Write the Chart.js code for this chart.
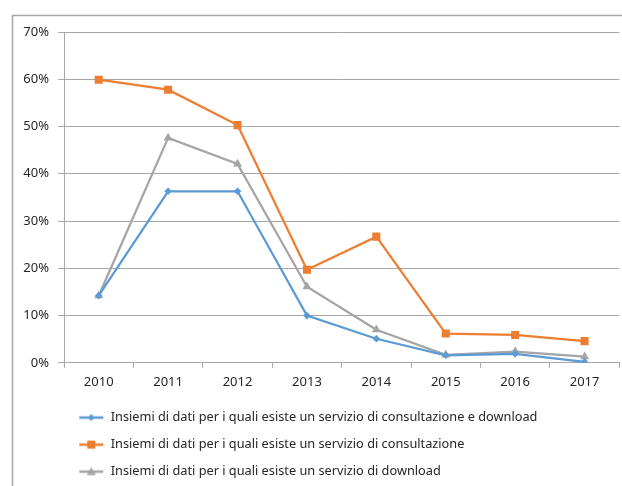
<!DOCTYPE html>
<html>
<head>
<meta charset="utf-8">
<script src="https://cdn.jsdelivr.net/npm/chart.js@4.4.1/dist/chart.umd.min.js"></script>
<style>
  html, body { margin: 0; padding: 0; background: #fff; overflow: hidden; }
  #wrap { width: 625px; height: 486px; position: relative; }
</style>
</head>
<body>
<div id="wrap"><canvas id="myChart"></canvas></div>
<script>
var years = ["2010", "2011", "2012", "2013", "2014", "2015", "2016", "2017"];
var seriesNames = [
  "Insiemi di dati per i quali esiste un servizio di consultazione e download",
  "Insiemi di dati per i quali esiste un servizio di consultazione",
  "Insiemi di dati per i quali esiste un servizio di download"
];
var consultDownload = [14.2, 36.3, 36.3, 10.0, 5.1, 1.6, 1.9, 0.2];
var consultazione = [59.9, 57.8, 50.3, 19.7, 26.7, 6.2, 5.9, 4.6];
var download = [14.2, 47.6, 42.1, 16.1, 7.0, 1.7, 2.4, 1.3];
var yTicks = [0, 10, 20, 30, 40, 50, 60, 70];

var colors = ["#5B9BD5", "#ED7D31", "#A5A5A5"];
var styles = ["rectRot", "rect", "triangle"];

// small line + marker picture for the legend
function legendIcon(color, style) {
  var c = document.createElement('canvas');
  c.width = 26; c.height = 12;
  var g = c.getContext('2d');
  g.strokeStyle = color;
  g.fillStyle = color;
  g.lineWidth = 2.5;
  g.beginPath(); g.moveTo(1, 6); g.lineTo(25, 6); g.stroke();
  g.beginPath();
  if (style === 'rectRot') {
    g.moveTo(13, 2.5); g.lineTo(16.5, 6); g.lineTo(13, 9.5); g.lineTo(9.5, 6);
  } else if (style === 'rect') {
    g.rect(9, 2, 8, 8);
  } else {
    g.moveTo(13, 1.5); g.lineTo(17.5, 9.5); g.lineTo(8.5, 9.5);
  }
  g.closePath(); g.fill();
  return c;
}

var frame = {
  id: 'frame',
  beforeDraw: function (chart) {
    var ctx = chart.ctx;
    ctx.save();
    ctx.strokeStyle = '#A6A6A6';
    ctx.lineWidth = 1.5;
    ctx.strokeRect(12.5, 15.5, 800, 800);
    ctx.restore();
  }
};

var font = 'Noto Sans';

var ctx = document.getElementById("myChart").getContext('2d');
var myChart = new Chart(ctx, {
  type: 'line',
  data: {
    labels: years,
    datasets: [{
      label: seriesNames[0],
      data: consultDownload,
      borderColor: colors[0],
      backgroundColor: colors[0],
      pointStyle: 'rectRot',
      pointRadius: 3.8
    }, {
      label: seriesNames[1],
      data: consultazione,
      borderColor: colors[1],
      backgroundColor: colors[1],
      pointStyle: 'rect',
      pointRadius: 5.7
    }, {
      label: seriesNames[2],
      data: download,
      borderColor: colors[2],
      backgroundColor: colors[2],
      pointStyle: 'triangle',
      pointRadius: 5.2
    }]
  },
  options: {
    responsive: true,
    maintainAspectRatio: false,
    animation: false,
    events: [],
    layout: { padding: { top: 32, right: -3, left: 14, bottom: -2 } },
    elements: {
      line: { borderWidth: 2.25, tension: 0 },
      point: { borderWidth: 0 }
    },
    scales: {
      x: {
        offset: true,
        grid: { offset: true, drawOnChartArea: false, tickLength: 5, color: '#A6A6A6' },
        border: { color: '#A6A6A6' },
        ticks: { color: '#262626', font: { family: font, size: 13, lineHeight: 1 }, padding: 8, maxRotation: 0 }
      },
      y: {
        min: 0,
        max: 70,
        afterFit: function (s) { s.width = 50; },
        afterBuildTicks: function (s) { s.ticks = yTicks.map(function (v) { return { value: v }; }); },
        grid: { color: '#A6A6A6', tickLength: 6 },
        border: { color: '#A6A6A6' },
        ticks: {
          color: '#262626',
          font: { family: font, size: 13 },
          padding: 9,
          callback: function (v) { return v + '%'; }
        }
      }
    },
    plugins: {
      tooltip: { enabled: false },
      legend: {
        position: 'bottom',
        align: 'start',
        fullSize: false,
        labels: {
          usePointStyle: true,
          pointStyleWidth: 26,
          padding: 14.3,
          color: '#262626',
          font: { family: font, size: 12.75 },
          generateLabels: function (chart) {
            return chart.data.datasets.map(function (ds, i) {
              return {
                text: ds.label,
                pointStyle: legendIcon(colors[i], styles[i]),
                fontColor: '#262626',
                lineWidth: 0,
                datasetIndex: i
              };
            });
          }
        }
      }
    }
  },
  plugins: [frame]
});
</script>
</body>
</html>
